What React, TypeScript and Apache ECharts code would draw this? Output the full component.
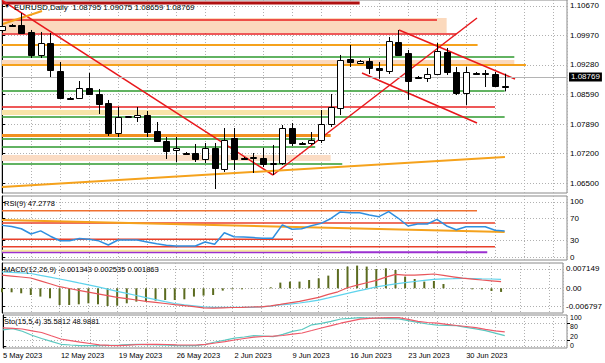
import React, { useEffect, useRef } from 'react';
import * as echarts from 'echarts';

const FONT = 'Liberation Sans, Arial, sans-serif';

// ---- time axis (bar index, Sunday bars included) ----
const dateLabels = ['5 May 2023', '12 May 2023', '19 May 2023', '26 May 2023', '2 Jun 2023', '9 Jun 2023', '16 Jun 2023', '23 Jun 2023', '30 Jun 2023'];
const dateLabelBars = [0, 6, 12, 18, 24, 30, 36, 42, 48];
const X_MAX = 58.45;

// ---- price candles ----
const opens = [
  1.10105, 1.10222, 1.10222, 1.10058, 1.09516, 1.09798, 1.09139, 1.08503, 1.08503, 1.08738,
  1.08597, 1.08385, 1.07678, 1.08055, 1.08055, 1.08102, 1.07726, 1.07490, 1.07278, 1.07207,
  1.07207, 1.07066, 1.07325, 1.06830, 1.07561, 1.07089, 1.07089, 1.07089, 1.06948, 1.06972,
  1.07796, 1.07443, 1.07443, 1.07513, 1.07890, 1.08267, 1.09421, 1.09327, 1.09374, 1.09210,
  1.09139, 1.09822, 1.09563, 1.08997, 1.08974, 1.09068, 1.09586, 1.09115, 1.08621, 1.09092,
  1.09092, 1.09068, 1.08795];
const closes = [
  1.10199, 1.10211, 1.10034, 1.09516, 1.09798, 1.09162, 1.08503, 1.08491, 1.08738, 1.08597,
  1.08361, 1.07678, 1.08055, 1.08067, 1.08102, 1.07702, 1.07490, 1.07254, 1.07325, 1.07195,
  1.07066, 1.07325, 1.06854, 1.07513, 1.07066, 1.07077, 1.07113, 1.06948, 1.06972, 1.07796,
  1.07443, 1.07431, 1.07513, 1.07890, 1.08291, 1.09398, 1.09351, 1.09374, 1.09210, 1.09174,
  1.09846, 1.09516, 1.08903, 1.08985, 1.09068, 1.09610, 1.09115, 1.08621, 1.09115, 1.09080,
  1.09080, 1.08785, 1.08769];
const lows = [
  1.10034, 1.10175, 1.10010, 1.09445, 1.09445, 1.08997, 1.08479, 1.08479, 1.08479, 1.08573,
  1.08126, 1.07608, 1.07584, 1.08032, 1.07937, 1.07584, 1.07466, 1.07066, 1.06995, 1.07184,
  1.06995, 1.06972, 1.06359, 1.06760, 1.06807, 1.07066, 1.06736, 1.06877, 1.06689, 1.06925,
  1.07372, 1.07419, 1.07396, 1.07443, 1.07820, 1.08102, 1.09233, 1.09304, 1.09068, 1.08957,
  1.09068, 1.09492, 1.08456, 1.08974, 1.08880, 1.09045, 1.09045, 1.08573, 1.08338, 1.09068,
  1.08762, 1.08773, 1.08659];
const highs = [
  1.10458, 1.10246, 1.10505, 1.10105, 1.10058, 1.10034, 1.09351, 1.08526, 1.08903, 1.09092,
  1.08715, 1.08456, 1.08291, 1.08079, 1.08291, 1.08197, 1.07937, 1.07584, 1.07584, 1.07231,
  1.07419, 1.07443, 1.07443, 1.07796, 1.07796, 1.07113, 1.07207, 1.07325, 1.07396, 1.07867,
  1.07914, 1.07466, 1.07702, 1.08220, 1.08597, 1.09516, 1.09751, 1.09398, 1.09445, 1.09351,
  1.09940, 1.10105, 1.09634, 1.09021, 1.09210, 1.09798, 1.09681, 1.09233, 1.09233, 1.09115,
  1.09162, 1.09115, 1.09075];

const priceTicks = [1.065, 1.072, 1.0789, 1.0859, 1.0928, 1.0997, 1.1067];
const lastPrice = 1.08769;
const fibZero = 1.06359;

// horizontal levels
const levelPrices = [1.10741, 1.10340, 1.10010, 1.09751, 1.09469, 1.09280, 1.08668, 1.08291, 1.08055, 1.07537, 1.07349, 1.06948];
const levelEnds = [37, 45, 47, 49.2, 53, 54.2, 52, 51, 52, 32.4, 32.4, 35.2];
// shaded zones
const bandTops = [1.10387, 1.09398, 1.08220, 1.07655, 1.07160];
const bandBottoms = [1.10034, 1.09280, 1.08102, 1.07584, 1.07019];
const bandEnds = [46, 53, 34, 34, 34];
// trend lines
const trendStartX = [0, 28.03, 41.07, 37.24, 0, 0];
const trendStartP = [1.10804, 1.06689, 1.10105, 1.09092, 1.06409, 1.10239];
const trendEndX = [28.03, 49.14, 53.07, 49.14, 52.03, 4.14];
const trendEndP = [1.06689, 1.10387, 1.08950, 1.07914, 1.07113, 1.10552];

// ---- RSI ----
const rsiValues = [
  57.5, 55.6, 51.3, 41.8, 47.5, 37.8, 29.6, 29.6, 33.8, 32.4,
  29.3, 21.8, 30.9, 30.9, 30.9, 27.3, 24.0, 21.3, 20.2, 20.0,
  20.0, 27.3, 23.1, 44.0, 36.7, 36.2, 35.3, 34.0, 34.0, 58.5,
  50.4, 51.3, 56.9, 61.1, 69.6, 82.0, 80.5, 80.5, 76.2, 73.3,
  82.4, 70.4, 56.4, 60.0, 60.0, 68.5, 56.4, 49.6, 55.1, 55.1,
  55.1, 48.7, 47.28];
const rsiTicks = [0, 30, 70, 100];
const rsiLevelValues = [84.2, 61.8, 32.2, 18.7, 8.5, 11.5];
const rsiLevelEnds = [49.14, 51, 30.1, 51, 50.2, 35];
const rsiSlopeX = [0, 52];
const rsiSlopeV = [67.3, 45.5];

// ---- MACD ----
const macdHist = [
  -0.00148, -0.00148, -0.00185, -0.00248, -0.00307, -0.00370, -0.00619, -0.00619, -0.00593, -0.00556,
  -0.00593, -0.00656, -0.00641, -0.00556, -0.00493, -0.00493, -0.00456, -0.00433, -0.00433, -0.00407,
  -0.00307, -0.00270, -0.00248, -0.00085, -0.00037, -0.00037, -0.00011, -0.00011, 0.00037, 0.00211,
  0.00248, 0.00248, 0.00307, 0.00370, 0.00470, 0.00715, 0.00804, 0.00841, 0.00804, 0.00715,
  0.00741, 0.00678, 0.00433, 0.00344, 0.00248, 0.00270, 0.00159, 0.00011, 0.00011, -0.00037,
  -0.00037, -0.00100, -0.001343];
const macdCyan = [
  0.00611, 0.00593, 0.00574, 0.00548, 0.00481, 0.00415, 0.00344, 0.00274, 0.00200, 0.00130,
  0.00052, -0.00030, -0.00111, -0.00189, -0.00267, -0.00344, -0.00419, -0.00493, -0.00563, -0.00615,
  -0.00648, -0.00685, -0.00704, -0.00704, -0.00704, -0.00704, -0.00704, -0.00689, -0.00659, -0.00615,
  -0.00585, -0.00544, -0.00493, -0.00437, -0.00356, -0.00270, -0.00185, -0.00107, -0.00030, 0.00052,
  0.00107, 0.00163, 0.00211, 0.00252, 0.00293, 0.00333, 0.00352, 0.00359, 0.00370, 0.00363,
  0.00352, 0.00344, 0.00333];
const macdRed = [
  0.00485, 0.00452, 0.00419, 0.00381, 0.00274, 0.00167, 0.00059, -0.00007, -0.00074, -0.00141,
  -0.00207, -0.00270, -0.00337, -0.00385, -0.00433, -0.00481, -0.00522, -0.00563, -0.00604, -0.00641,
  -0.00681, -0.00722, -0.00733, -0.00722, -0.00711, -0.00704, -0.00693, -0.00685, -0.00648, -0.00596,
  -0.00541, -0.00485, -0.00411, -0.00337, -0.00226, -0.00130, 0.00022, 0.00115, 0.00207, 0.00296,
  0.00415, 0.00515, 0.00485, 0.00485, 0.00507, 0.00530, 0.00478, 0.00426, 0.00374, 0.00341,
  0.00307, 0.00278, 0.00244];
const macdTicks = [-0.006797, 0, 0.007149];

// ---- Stochastic ----
const stoMain = [
  55.5, 60.0, 51.0, 36.9, 25.9, 15.9, 5.9, 3.4, 1.0, 1.0,
  1.0, 2.0, 3.0, 4.5, 5.5, 4.8, 3.8, 2.8, 1.4, 1.0,
  1.0, 5.9, 13.8, 20.3, 27.2, 31.0, 35.5, 33.8, 32.0, 40.3,
  50.3, 56.9, 73.1, 78.3, 84.8, 93.1, 95.2, 97.6, 96.6, 95.5,
  94.5, 93.4, 87.6, 81.4, 75.9, 72.1, 71.4, 70.3, 64.1, 59.0,
  52.8, 44.5, 35.58];
const stoSignal = [
  62.8, 60.7, 58.6, 52.4, 46.6, 35.2, 24.1, 18.6, 13.1, 8.6,
  3.8, 2.0, 1.4, 2.8, 5.2, 5.9, 5.9, 5.2, 3.8, 3.4,
  3.4, 5.9, 10.3, 15.2, 20.7, 25.9, 30.3, 32.8, 34.1, 36.2,
  40.7, 44.8, 53.4, 62.1, 70.0, 78.6, 85.9, 92.8, 95.2, 97.2,
  97.6, 97.6, 91.7, 84.8, 81.0, 78.6, 74.5, 70.7, 67.2, 63.1,
  57.6, 52.4, 48.99];
const stoEdgeTicks = [0, 100];
const stoUpperTicks = [80];
const stoLowerTicks = [20];

// ---- styles ----
const levelColors = ['#b01010', '#e82020', '#e82020', '#f5a21c', '#2e9a2e', '#f5a21c', '#2e9a2e', '#e82020', '#2e9a2e', '#2e9a2e', '#2e9a2e', '#2e9a2e'];
const levelWidths = [3, 1.5, 1.5, 2, 1.5, 2, 1.5, 1.5, 1.5, 1.5, 1.5, 1.5];
const bandColors = ['#fbd9bd', '#fbd9bd', '#f8e4a8', '#f39020', '#fbdcc4'];
const trendColors = ['#e8181c', '#e8181c', '#e8181c', '#e8181c', '#f5a21c', '#f5a21c'];
const trendWidths = [1.5, 1.5, 1.5, 1.5, 2, 2];
const rsiLevelColors = ['#f07030', '#e8402a', '#e8402a', '#e8402a', '#9b30d0', '#f5e6a0'];
const rsiLevelWidths = [1.5, 1.5, 1.5, 1.5, 2, 2];

const splitStyle = { show: true, lineStyle: { color: '#b0b0b0', type: [1, 2] as any, width: 1 } };

function xAxisFor(gridIndex: number, withLabels: boolean) {
  return {
    type: 'value', gridIndex, min: 0, max: X_MAX, interval: 3,
    axisLine: { show: false }, axisTick: { show: false },
    axisLabel: withLabels
      ? {
          show: true, customValues: dateLabelBars, align: 'left', margin: 3,
          fontSize: 7.5, color: '#000', fontFamily: FONT, hideOverlap: false,
          formatter: (v: number) => dateLabels[dateLabelBars.indexOf(Math.round(v))] || '',
        }
      : { show: false },
    splitLine: splitStyle,
  };
}

function yAxisFor(
  gridIndex: number, min: number, max: number, ticks: number[], fmt: (v: number) => string,
  extra = false, vAlign = 'middle', fontSize = 8,
) {
  return {
    type: 'value', gridIndex, position: 'right', min, max,
    axisLine: { show: !extra, lineStyle: { color: '#000', width: 1 } },
    axisTick: { show: true, length: 3, customValues: ticks, lineStyle: { color: '#000' } },
    axisLabel: {
      show: true, customValues: ticks, fontSize, color: '#000', margin: 3, fontFamily: FONT,
      hideOverlap: false, showMinLabel: true, showMaxLabel: true, formatter: fmt,
      verticalAlign: vAlign,
    },
    splitLine: splitStyle,
  };
}

function seg(xi: number, yi: number, pts: number[][], color: string, width: number, z = 3) {
  return {
    type: 'line', xAxisIndex: xi, yAxisIndex: yi, data: pts, symbol: 'none', showSymbol: false,
    lineStyle: { color, width }, silent: true, z, animation: false,
  };
}

function buildOption() {
  const idx = opens.map((_, i) => i);
  const candleData = idx.map((i) => [i, opens[i], closes[i], lows[i], highs[i]]);
  const series: any[] = [];

  // shaded zones
  series.push({
    type: 'custom', xAxisIndex: 0, yAxisIndex: 0, silent: true, z: 1,
    data: bandTops.map((t, k) => [0, bandEnds[k], t, bandBottoms[k]]),
    encode: { x: [0, 1], y: [2, 3] },
    renderItem: (params: any, api: any) => {
      const p1 = api.coord([api.value(0), api.value(2)]);
      const p2 = api.coord([api.value(1), api.value(3)]);
      return {
        type: 'rect',
        shape: { x: p1[0], y: p1[1], width: p2[0] - p1[0], height: Math.max(1, p2[1] - p1[1]) },
        style: { fill: bandColors[params.dataIndex] },
      };
    },
  });

  // horizontal levels
  levelPrices.forEach((p, k) => series.push(seg(0, 0, [[0, p], [levelEnds[k], p]], levelColors[k], levelWidths[k], 2)));
  // trend lines
  trendStartX.forEach((x0, k) =>
    series.push(seg(0, 0, [[x0, trendStartP[k]], [trendEndX[k], trendEndP[k]]], trendColors[k], trendWidths[k], 3)));

  // candles
  series.push({
    type: 'custom', xAxisIndex: 0, yAxisIndex: 0, z: 5, silent: true,
    data: candleData,
    encode: { x: 0, y: [1, 2, 3, 4] },
    renderItem: (params: any, api: any) => {
      const x = api.value(0);
      const o = api.value(1), c = api.value(2), l = api.value(3), h = api.value(4);
      const pO = api.coord([x, o]);
      const pC = api.coord([x, c]);
      const pL = api.coord([x, l]);
      const pH = api.coord([x, h]);
      const cx = Math.round(pO[0]) + 0.5;
      const top = Math.min(pO[1], pC[1]);
      const bot = Math.max(pO[1], pC[1]);
      const bull = c >= o;
      return {
        type: 'group',
        children: [
          { type: 'line', shape: { x1: cx, y1: pH[1], x2: cx, y2: pL[1] }, style: { stroke: '#000', lineWidth: 1 } },
          {
            type: 'rect',
            shape: { x: cx - 3, y: Math.round(top) + 0.5, width: 6, height: Math.max(1, Math.round(bot - top)) },
            style: { fill: bull ? '#fff' : '#000', stroke: '#000', lineWidth: 1 },
          },
        ],
      };
    },
    markLine: {
      silent: true, symbol: ['none', 'none'], animation: false,
      data: [
        {
          yAxis: lastPrice,
          lineStyle: { color: '#b4b4b4', type: 'solid', width: 1 },
          label: {
            show: true, position: 'end', formatter: () => lastPrice.toFixed(5), color: '#fff',
            backgroundColor: '#000', padding: [1, 2, 0, 2], fontSize: 8, distance: 2, fontFamily: FONT,
          },
        },
        {
          yAxis: fibZero,
          lineStyle: { color: '#dcb496', type: 'solid', width: 2 },
          label: { show: true, position: 'insideEndTop', formatter: '0.0', color: '#c8906a', fontSize: 8, distance: 1, fontFamily: FONT },
        },
      ],
    },
  });

  // RSI panel
  rsiLevelValues.forEach((v, k) => series.push(seg(1, 1, [[0, v], [rsiLevelEnds[k], v]], rsiLevelColors[k], rsiLevelWidths[k], 2)));
  series.push(seg(1, 1, [[rsiSlopeX[0], rsiSlopeV[0]], [rsiSlopeX[1], rsiSlopeV[1]]], '#f5a21c', 2, 2));
  series.push(seg(1, 1, idx.map((i) => [i, rsiValues[i]]), '#2f8fe0', 1.5, 4));

  // MACD panel
  series.push({
    type: 'bar', xAxisIndex: 2, yAxisIndex: 2, barWidth: 2, silent: true, z: 2,
    data: idx.map((i) => [i, macdHist[i]]), itemStyle: { color: '#5b6b1f' },
  });
  series.push(seg(2, 2, idx.map((i) => [i, macdCyan[i]]), '#5fd3ec', 1.2, 4));
  series.push(seg(2, 2, idx.map((i) => [i, macdRed[i]]), '#e8555a', 1.2, 4));

  // Stochastic panel
  series.push(seg(3, 3, idx.map((i) => [i, stoMain[i]]), '#5cc8c0', 1.2, 4));
  series.push(seg(3, 3, idx.map((i) => [i, stoSignal[i]]), '#ef5a6a', 1.2, 4));

  const titleStyle = { fontSize: 7.5, fontWeight: 'normal', color: '#000', fontFamily: FONT };

  return {
    animation: false,
    backgroundColor: '#fff',
    textStyle: { fontFamily: FONT },
    title: [
      { text: '▼', left: 4, top: 3, padding: 0, textStyle: { ...titleStyle, fontSize: 6 } },
      { text: `EURUSD,Daily  ${opens[52].toFixed(5)} ${highs[52].toFixed(5)} ${lows[52].toFixed(5)} ${closes[52].toFixed(5)}`, left: 14, top: 3, padding: 0, textStyle: { ...titleStyle, fontSize: 8 } },
      { text: `RSI(9) ${'47.2778'}`, left: 4, top: 199, padding: 0, textStyle: titleStyle },
      { text: 'MACD(12,26,9) -0.001343 0.002535 0.001863', left: 4, top: 265, padding: 0, textStyle: titleStyle },
      { text: 'Sto(15,5,4) 35.5812 48.9881', left: 4, top: 317, padding: 0, textStyle: titleStyle },
    ],
    grid: [
      { left: 2, top: 0, width: 565, height: 193, show: true, borderColor: '#8a8a8a', borderWidth: 1, backgroundColor: 'transparent' },
      { left: 2, top: 196, width: 565, height: 64, show: true, borderColor: '#8a8a8a', borderWidth: 1, backgroundColor: 'transparent' },
      { left: 2, top: 263, width: 565, height: 50, show: true, borderColor: '#8a8a8a', borderWidth: 1, backgroundColor: 'transparent' },
      { left: 2, top: 315, width: 565, height: 33, show: true, borderColor: '#8a8a8a', borderWidth: 1, backgroundColor: 'transparent' },
    ],
    xAxis: [xAxisFor(0, false), xAxisFor(1, false), xAxisFor(2, false), xAxisFor(3, true)],
    yAxis: [
      yAxisFor(0, 1.06265, 1.10811, priceTicks, (v) => v.toFixed(5)),
      yAxisFor(1, -5.45, 110.9, rsiTicks, (v) => String(Math.round(v))),
      yAxisFor(2, -0.009148, 0.00937, macdTicks, (v) => (v === 0 ? '0.00' : v.toFixed(6))),
      yAxisFor(3, -6.9, 106.9, stoEdgeTicks, (v) => String(Math.round(v)), false, 'middle', 7),
      yAxisFor(3, -6.9, 106.9, stoUpperTicks, (v) => String(Math.round(v)), true, 'top', 7),
      yAxisFor(3, -6.9, 106.9, stoLowerTicks, (v) => String(Math.round(v)), true, 'bottom', 7),
    ],
    series,
  };
}

export default function App() {
  const ref = useRef<HTMLDivElement>(null);
  useEffect(() => {
    const chart = echarts.init(ref.current as HTMLDivElement, null, { renderer: 'svg' });
    chart.setOption(buildOption() as any);
    return () => chart.dispose();
  }, []);
  return (
    <div
      ref={ref}
      style={{ position: 'fixed', left: 0, top: 0, width: 605, height: 363, background: '#fff' }}
    />
  );
}
